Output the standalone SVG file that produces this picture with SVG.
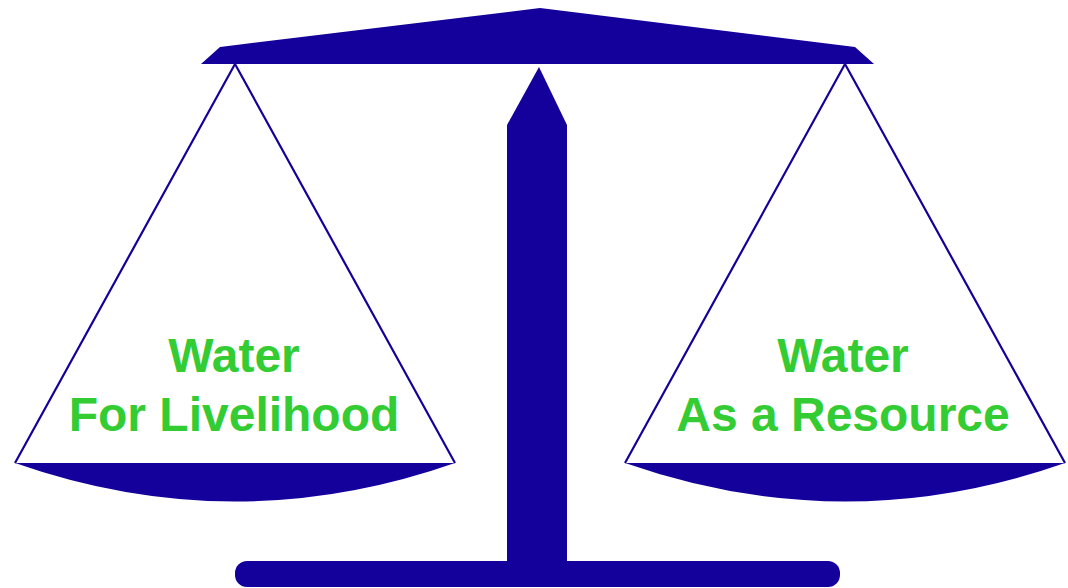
<svg xmlns="http://www.w3.org/2000/svg" width="1068" height="588" viewBox="0 0 1068 588">
<style>
.fill{fill:#14009B;stroke:none}
.rope{fill:none;stroke:#14009B;stroke-width:2.2;stroke-linejoin:miter}
.lbl{font-family:"Liberation Sans",Arial,sans-serif;font-weight:bold;font-size:48px;fill:#33CC33;text-anchor:middle}
</style>
<rect width="1068" height="588" fill="#ffffff"/>
<g id="beam">
<polygon class="fill" points="201,64 220,47 540,8 855,47 874,64"/>
</g>
<g id="post">
<polygon class="fill" points="539,67 567,125 567,562 507,562 507,125"/>
</g>
<g id="base">
<rect class="fill" x="235" y="561" width="605" height="26" rx="12"/>
</g>
<g id="left-pan">
<polyline class="rope" points="15,463 235,64 455,463"/>
<path class="fill" d="M15,463 L455,463 Q235,540 15,463 Z"/>
<text class="lbl" x="234" y="372">Water</text>
<text class="lbl" x="234" y="431">For Livelihood</text>
</g>
<g id="right-pan">
<polyline class="rope" points="625,463 845,64 1065,463"/>
<path class="fill" d="M625,463 L1065,463 Q845,540 625,463 Z"/>
<text class="lbl" x="843" y="372">Water</text>
<text class="lbl" x="843" y="431">As a Resource</text>
</g>
<g id="connectors"></g>
</svg>
